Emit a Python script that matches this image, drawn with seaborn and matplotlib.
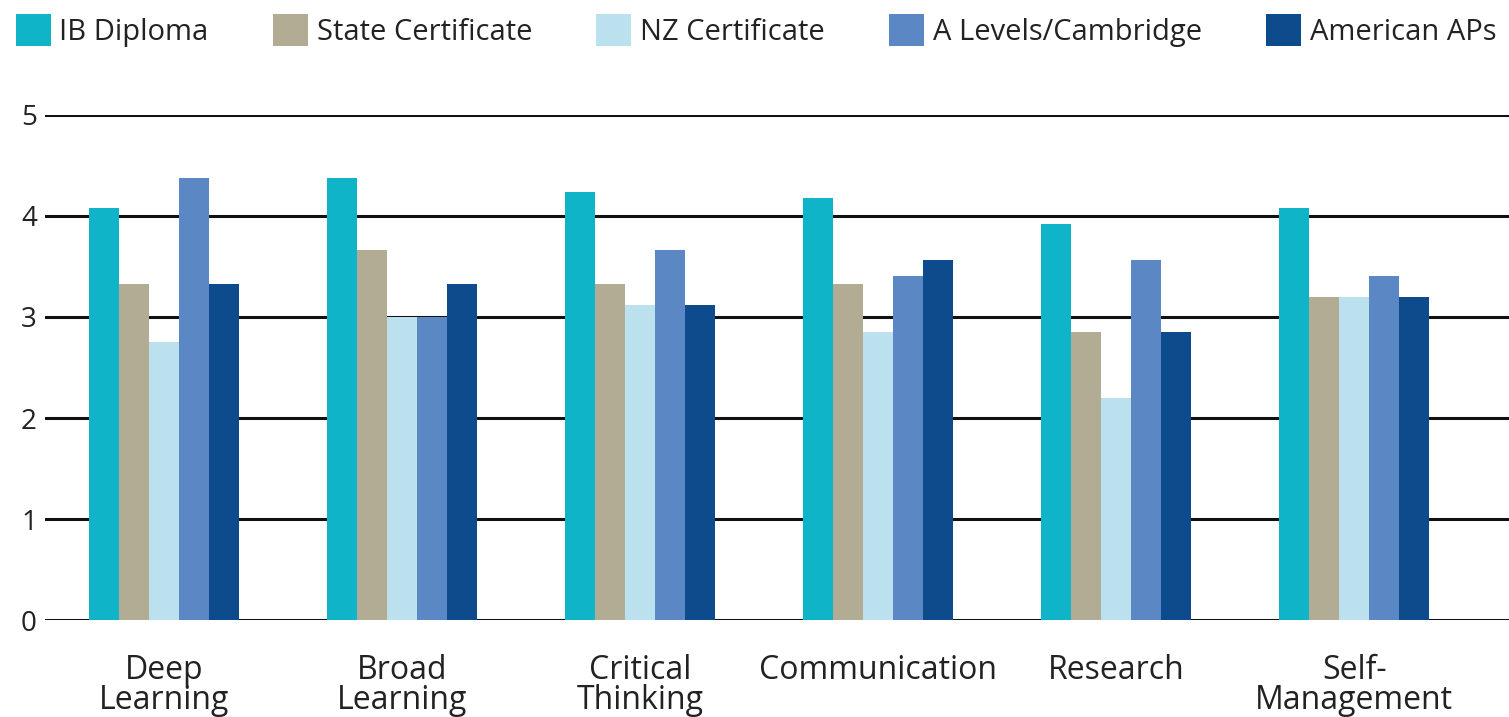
import matplotlib
matplotlib.use("Agg")
import matplotlib.pyplot as plt
import seaborn as sns
import pandas as pd

categories = ["Deep\nLearning", "Broad\nLearning", "Critical\nThinking",
              "Communication", "Research", "Self-\nManagement"]
series = ["IB Diploma", "State Certificate", "NZ Certificate",
          "A Levels/Cambridge", "American APs"]
ib = [4.08, 4.37, 4.24, 4.18, 3.92, 4.08]
state = [3.33, 3.66, 3.33, 3.33, 2.85, 3.20]
nz = [2.75, 3.00, 3.12, 2.85, 2.20, 3.20]
alevels = [4.37, 3.00, 3.66, 3.40, 3.56, 3.40]
american = [3.33, 3.33, 3.12, 3.56, 2.85, 3.20]
yticks = [0, 1, 2, 3, 4, 5]

colors = ["#10B4C8", "#B3AC94", "#BCE1EE", "#5B87C5", "#0D4B8D"]

rows = []
for s, vals in zip(series, [ib, state, nz, alevels, american]):
    for c, v in zip(categories, vals):
        rows.append({"category": c, "series": s, "value": v})
df = pd.DataFrame(rows)

sns.set_theme(style="white")
plt.rcParams["font.family"] = ["Open Sans", "DejaVu Sans"]

fig = plt.figure(figsize=(15.09, 7.17), dpi=100)
ax = fig.add_axes([0.030, 0.135, 0.970, 0.705])

sns.barplot(data=df, x="category", y="value", hue="series", order=categories,
            hue_order=series, palette=colors, width=0.63, saturation=1,
            linewidth=0, errorbar=None, ax=ax, zorder=3)

for y in yticks:
    ax.axhline(y, color="#111111", lw=2.2, zorder=1)

ax.set_ylim(0, 5)
ax.set_xlim(-0.5, 5.65)
ax.set_yticks(yticks)
ax.set_yticklabels([str(t) for t in yticks], fontsize=20, color="#222222")
ax.tick_params(axis="y", length=0, pad=6)
ax.tick_params(axis="x", length=0, pad=24, labelsize=23, labelcolor="#222222")
for lbl in ax.get_xticklabels():
    lbl.set_verticalalignment("top")
    lbl.set_linespacing(0.88)
ax.set_xlabel("")
ax.set_ylabel("")
for sp in ax.spines.values():
    sp.set_visible(False)

handles, labels = ax.get_legend_handles_labels()
ax.legend_.remove()
fig.legend(handles, labels, loc="upper left", bbox_to_anchor=(-0.007, 1.017),
           ncol=5, frameon=False, fontsize=21, handlelength=1.2,
           handleheight=1.3, handletextpad=0.3, columnspacing=2.2,
           labelcolor="#222222")

fig.savefig("out.png", dpi=100, facecolor="white")
